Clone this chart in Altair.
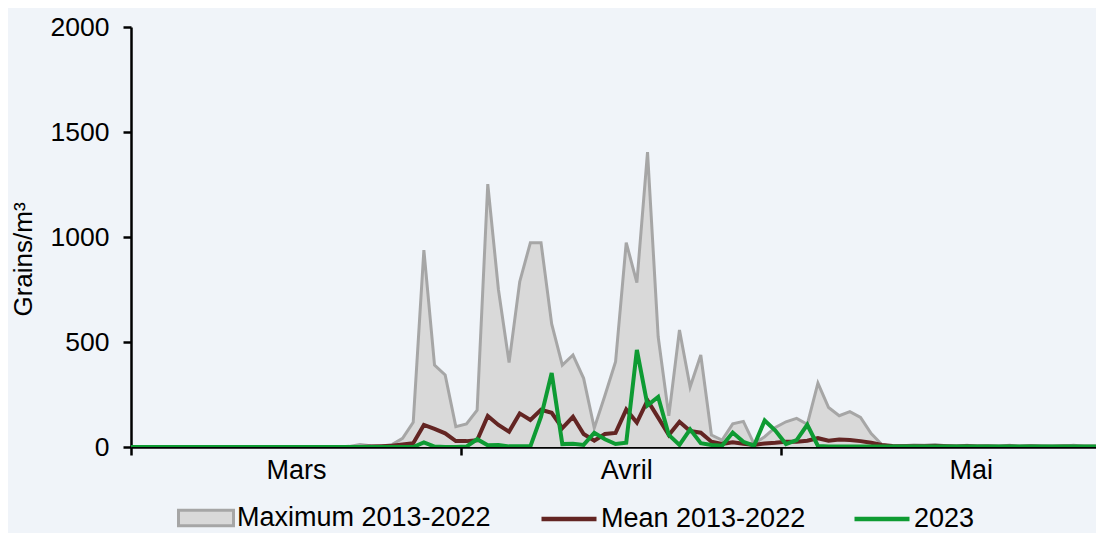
import altair as alt
import pandas as pd

# ---- data ----
dates = [d.strftime("%Y-%m-%d") for d in pd.date_range("2023-02-28", "2023-05-31")]

max_feb = [0]
max_mars = [0, 0, 0, 0, 0, 0, 0, 0, 0, 0, 0, 0, 0, 0, 0, 0, 0, 0, 0, 0,
            3, 12, 6, 4, 12, 41, 118, 938, 390, 343, 97]
max_avril = [110, 175, 1252, 750, 402, 787, 973, 973, 586, 390, 438, 327, 90, 245, 406,
             973, 783, 1404, 525, 148, 557, 286, 438, 57, 33, 110, 122, 15, 49, 93]
max_mai = [120, 136, 108, 304, 188, 149, 168, 141, 64, 12, 3, 6, 10, 8, 12, 6,
           4, 8, 3, 5, 4, 8, 3, 6, 5, 3, 4, 8, 4, 3, 2]

mean_feb = [0]
mean_mars = [0, 0, 0, 0, 0, 0, 0, 0, 0, 0, 0, 0, 0, 0, 0, 0, 0, 0, 0, 0, 0, 0,
             2, 4, 6, 12, 18, 105, 86, 65, 28]
mean_avril = [28, 32, 148, 105, 73, 160, 129, 177, 163, 90, 144, 62, 30, 62, 67,
              178, 116, 222, 140, 57, 120, 76, 68, 25, 15, 22, 15, 10, 17, 20]
mean_mai = [25, 25, 30, 42, 30, 36, 33, 28, 20, 10, 5, 3, 4, 3, 5, 3,
            2, 3, 2, 2, 1, 2, 1, 2, 1, 1, 2, 1, 1, 1, 1]

y23_feb = [0]
y23_mars = [0, 0, 0, 0, 0, 0, 0, 0, 0, 0, 0, 0, 0, 0, 0, 0, 0, 0, 0, 0, 0, 0, 0, 0, 0, 0, 0,
            22, 2, 0, 0]
y23_avril = [2, 37, 8, 10, 3, 3, 3, 144, 352, 14, 16, 10, 68, 37, 14,
             20, 462, 198, 238, 57, 10, 84, 18, 10, 6, 69, 25, 6, 126, 78]
y23_mai = [14, 33, 106, 5, 2, 2, 2, 2, 2, 2, 2, 2, 2, 2, 2, 2,
           2, 2, 2, 2, 2, 2, 2, 2, 2, 2, 2, 2, 2, 2, 2]

series_names = ["Maximum 2013-2022", "Mean 2013-2022", "2023"]
month_names = ["Mars", "Avril", "Mai"]
month_start_days = [0, 31, 61]

max_vals = max_feb + max_mars + max_avril + max_mai
mean_vals = mean_feb + mean_mars + mean_avril + mean_mai
y23_vals = y23_feb + y23_mars + y23_avril + y23_mai

rows = []
for i, d in enumerate(dates):
    day = i - 1 + 0.5  # index 0 = 1 March, plotted at mid-day
    for name, vals in zip(series_names, [max_vals, mean_vals, y23_vals]):
        rows.append({"date": d, "day": day, "series": name, "value": vals[i]})
df = pd.DataFrame(rows)

# ---- styling ----
BG = "#F0F4F9"
FONT = "Arial"
PX_PER_DAY = 10.65
PLOT_W = 965
PLOT_H = 420

x_scale = alt.Scale(domain=[0, PLOT_W / PX_PER_DAY], nice=False, zero=False)
y_scale = alt.Scale(domain=[0, 2000], nice=False)

label_expr = " : ".join(
    f"datum.value == {d} ? '{m}'" for d, m in zip(month_start_days[:-1], month_names[:-1])
) + f" : '{month_names[-1]}'"

x_axis = alt.Axis(
    values=month_start_days, title=None, grid=False,
    domainColor="black", domainWidth=2.5,
    tickColor="black", tickWidth=2.5, tickSize=8,
    labelExpr=label_expr, labelFont=FONT, labelFontSize=27, labelColor="black",
    labelPadding=2, labelAlign="center", labelFlush=False, labelOverlap=False, labelBound=False,
    labelOffset={"condition": {"test": f"datum.value == {month_start_days[-1]}", "value": 190},
                 "value": 165},
)
y_axis = alt.Axis(
    values=[0, 500, 1000, 1500, 2000], format="d", title="Grains/m³", grid=False,
    domainColor="black", domainWidth=2.5,
    tickColor="black", tickWidth=2.5, tickSize=8,
    labelFont=FONT, labelFontSize=26.5, labelColor="black", labelPadding=14, labelFlush=False,
    titleFont=FONT, titleFontSize=26, titleFontWeight="normal", titleColor="black",
    titleAngle=270, titleAlign="center", titleBaseline="middle", titleX=-108, titleY=232,
)

base = alt.Chart(df)
x_enc = alt.X("day:Q", scale=x_scale, axis=x_axis)
y_enc = alt.Y("value:Q", scale=y_scale, axis=y_axis)

area = base.transform_filter(alt.datum.series == series_names[0]).mark_area(
    clip=True, opacity=1
).encode(
    x=x_enc, y=y_enc,
    fill=alt.Fill(
        "series:N",
        scale=alt.Scale(domain=[series_names[0]], range=["#D9D9D9"]),
        legend=alt.Legend(
            title=None, orient="none", legendX=46, legendY=462, direction="horizontal",
            symbolType="M-1,-0.28H1V0.28H-1Z", symbolSize=3025, symbolStrokeColor="#A6A6A6",
            symbolStrokeWidth=3, symbolOpacity=1,
            labelFont=FONT, labelFontSize=27, labelColor="black", labelOffset=2, labelLimit=0,
        ),
    ),
)

area_edge = base.transform_filter(alt.datum.series == series_names[0]).mark_line(
    clip=True, color="#A6A6A6", strokeWidth=3
).encode(x=x_enc, y=y_enc)

lines = base.transform_filter(alt.datum.series != series_names[0]).mark_line(
    clip=True, strokeWidth=4
).encode(
    x=x_enc, y=y_enc,
    stroke=alt.Stroke(
        "series:N",
        scale=alt.Scale(domain=series_names[1:], range=["#632523", "#0E9B33"]),
        legend=alt.Legend(
            title=None, orient="none", legendX=408, legendY=462, direction="horizontal",
            symbolType="stroke", symbolSize=3025, symbolStrokeWidth=4.5, symbolOpacity=1,
            columnPadding=39,
            labelFont=FONT, labelFontSize=27, labelColor="black", labelOffset=2, labelLimit=0,
        ),
    ),
    detail="series:N",
)

chart = alt.layer(area, area_edge, lines).properties(
    width=PLOT_W, height=PLOT_H,
    autosize=alt.AutoSizeParams(type="none"),
    padding={"left": 123, "top": 19, "right": 0, "bottom": 86},
    background=BG,
).configure_view(strokeWidth=0)

chart.save("out.html", embed_options={"renderer": "svg", "actions": False})
